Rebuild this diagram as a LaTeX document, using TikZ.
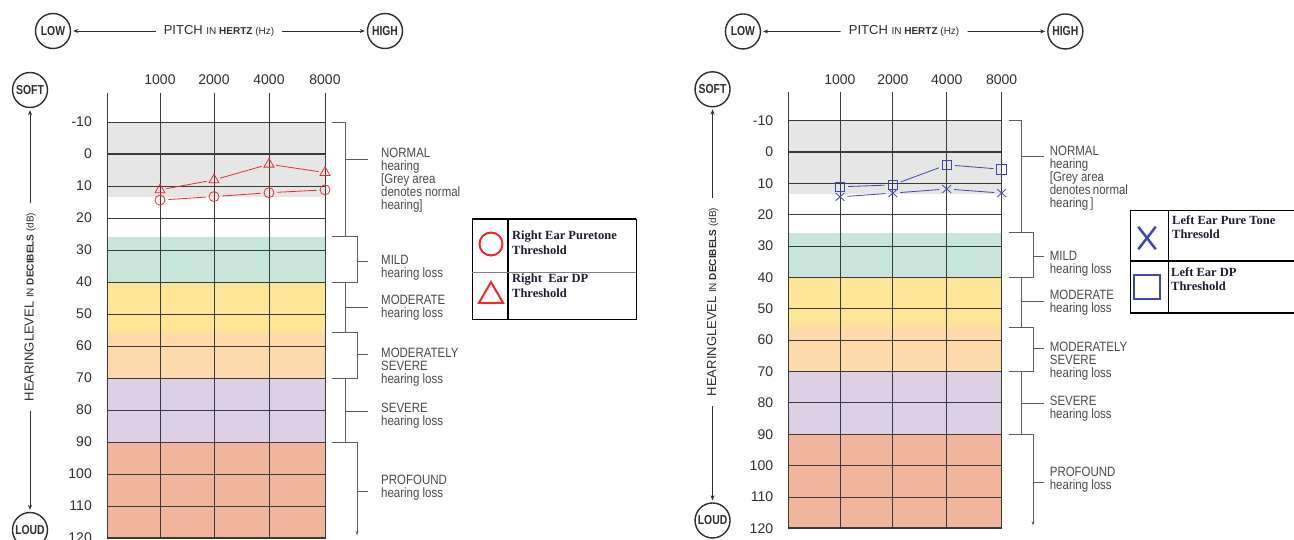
\documentclass[tikz,border=0pt]{standalone}
\usepackage{fontspec}
\setmainfont{Liberation Sans}
\newfontfamily\narrowfont[FakeStretch=0.85]{Liberation Sans}
\newfontfamily\condfont[FakeStretch=0.8]{Liberation Sans}
\newfontfamily\legfont{Liberation Serif}
\usetikzlibrary{arrows.meta,shapes.geometric,shapes.misc}
\definecolor{bgrey}{HTML}{E6E6E6}
\definecolor{bteal}{HTML}{C7E5DA}
\definecolor{byellow}{HTML}{FCE596}
\definecolor{bpeach}{HTML}{FCDAAC}
\definecolor{blav}{HTML}{DDCFE4}
\definecolor{bsalmon}{HTML}{F1B59E}
\definecolor{gridc}{HTML}{3A3A3A}
\definecolor{lblc}{HTML}{4A4A4A}
\definecolor{axc}{HTML}{2E2E2E}
\definecolor{dred}{HTML}{EC2A2E}
\definecolor{dblue}{HTML}{3F48A8}
\definecolor{legtc}{HTML}{1E1E30}
\tikzset{
  gridline/.style={draw=gridc, line width=0.8pt},
  ticklbl/.style={anchor=east, inner sep=0pt, text=axc, font=\fontsize{14}{16}\selectfont},
  freqlbl/.style={inner sep=0pt, text=axc, font=\fontsize{14}{16}\selectfont},
  lbl/.style={anchor=north west, inner sep=0pt, align=left, text=lblc, font=\narrowfont\fontsize{13.5}{13}\selectfont},
  brk/.style={draw=lblc!90, line width=0.9pt},
  circ/.style={circle, draw=axc, line width=1.4pt, minimum size=35pt, inner sep=0pt, text=axc, font=\condfont\bfseries\fontsize{13}{13}\selectfont},
  axarrow/.style={draw=axc, line width=0.8pt, -{Stealth[length=5pt,width=4pt]}, shorten >=2pt},
  pitchlbl/.style={inner xsep=8pt, inner ysep=2pt, text=axc},
  vlbl/.style={rotate=90, inner xsep=10pt, inner ysep=2pt, text=axc},
  ptL/.style={circle, draw=dred, line width=0.8pt, minimum size=10pt, inner sep=0pt},
  dpL/.style={regular polygon, regular polygon sides=3, draw=dred, line width=0.8pt, minimum size=11.5pt, inner sep=0pt},
  datL/.style={draw=dred, line width=0.8pt, shorten >=3pt, shorten <=3pt},
  ptR/.style={cross out, draw=dblue, line width=0.8pt, minimum width=8pt, minimum height=7pt, inner sep=0pt},
  dpR/.style={rectangle, draw=dblue, line width=0.8pt, minimum size=9.5pt, inner sep=0pt},
  datR/.style={draw=dblue, line width=0.8pt, shorten >=3pt, shorten <=3pt},
  legtxt/.style={anchor=north west, inner sep=0pt, align=left, text=legtc, font=\legfont\bfseries\fontsize{12.5}{14.5}\selectfont},
  legline/.style={draw=black, line width=0.8pt},
  chartL/.style={shift={(107,154)}, name prefix=L-},
  chartR/.style={shift={(788,152)}, scale=0.98, name prefix=R-}
}
% #1 LOW x, #2 HIGH x, #3 label x, #4 normal label text
\newcommand\audiogram[4]{%
  % colour bands
  \fill[bgrey]   (0,-32)   rectangle (218,43.2);
  \fill[bteal]   (0,82.6)  rectangle (218,128);
  \fill[byellow] (0,128)   rectangle (218,178.6);
  \fill[bpeach]  (0,178.6) rectangle (218,224);
  \fill[blav]    (0,224)   rectangle (218,288);
  \fill[bsalmon] (0,288)   rectangle (218,384);
  % horizontal grid lines
  \foreach \d in {-10,10,20,...,110}
    \draw[gridline] (0,{3.2*\d}) -- (218,{3.2*\d});
  \draw[gridline, line width=2.4pt] (0,0) -- (218,0);
  \draw[gridline, line width=2pt] (0,384) -- (218,384);
  % vertical grid lines
  \foreach \x in {0,53,107,162,218}
    \draw[gridline] (\x,-61) -- (\x,385);
  % level labels
  \foreach \d in {-10,0,10,...,120}
    \node[ticklbl] (t\d) at (-15,{3.2*\d}) {\d};
  % frequency labels
  \foreach \x/\f in {53/1000,107/2000,162/4000,218/8000}
    \node[freqlbl] (f\f) at (\x,-74) {\f};
  % pitch axis
  \node[circ] (low) at (#1,-123) {LOW};
  \node[circ] (high) at (#2,-123) {HIGH};
  \node[pitchlbl] (pitch) at ({(#1+#2)/2},-123)
    {\fontsize{13}{14}\selectfont PITCH {\fontsize{10}{11}\selectfont IN \textbf{HERTZ} (Hz)}};
  \draw[axarrow] (pitch) -- (low);
  \draw[axarrow] (pitch) -- (high);
  % hearing level axis
  \node[circ] (soft) at (-77,-64) {SOFT};
  \node[circ] (loud) at (-77,376) {LOUD};
  \node[vlbl] (hl) at (-77,153)
    {\fontsize{13}{14}\selectfont HEARINGLEVEL {\fontsize{10}{11}\selectfont IN \textbf{DECIBELS} (dB)}};
  \draw[axarrow] (hl) -- (soft);
  \draw[axarrow] (hl) -- (loud);
  % brackets
  \draw[brk] (225,-32) -- (238,-32) -- (238,82.6);
  \draw[brk] (238,128) -- (238,178.6);
  \draw[brk] (238,224) -- (238,288);
  \draw[brk] (225,82.6) -- (250,82.6) -- (250,128) -- (225,128);
  \draw[brk] (225,178.6) -- (250,178.6) -- (250,224) -- (225,224);
  \draw[brk, -{Stealth[length=4pt,width=3pt]}] (225,288) -- (250,288) -- (250,381);
  \draw[brk] (238,5) -- (261,5);
  \draw[brk] (250,107) -- (261,107);
  \draw[brk] (238,153) -- (261,153);
  \draw[brk] (250,200) -- (261,200);
  \draw[brk] (238,257) -- (261,257);
  \draw[brk] (250,337) -- (261,337);
  % range labels
  \node[lbl] (nrm) at (#3,-6) {#4};
  \node[lbl] (mild) at (#3,101) {MILD\\hearing loss};
  \node[lbl] (mod) at (#3,141) {MODERATE\\hearing loss};
  \node[lbl] (modsev) at (#3,194) {MODERATELY\\SEVERE\\hearing loss};
  \node[lbl] (sev) at (#3,249) {SEVERE\\hearing loss};
  \node[lbl] (prof) at (#3,321) {PROFOUND\\hearing loss};
}
\begin{document}
\begin{tikzpicture}[x=1pt, y=-1pt]
\useasboundingbox (0,0) rectangle (1294,540);
\fill[white] (0,0) rectangle (1294,540);

% ---------------- left audiogram (right ear) ----------------
\begin{scope}[chartL]
  \audiogram{-54}{278}{274}{NORMAL\\hearing\\{[}Grey area\\denotes normal\\hearing{]}}
  \foreach \i/\x/\d in {1/53/14.4,2/107/13.3,3/162/12.1,4/218/11.2}
    \node[ptL] (c\i) at (\x,{3.2*\d}) {};
  \foreach \i/\x/\d in {1/53/11.2,2/107/8.1,3/162/3.2,4/218/5.8}
    \node[dpL] (tr\i) at (\x,{3.2*\d}) {};
  \foreach \a/\b in {1/2,2/3,3/4} {
    \draw[datL] (c\a) -- (c\b);
    \draw[datL] (tr\a) -- (tr\b);
  }
\end{scope}

% ---------------- right audiogram (left ear) ----------------
\begin{scope}[chartR]
  \audiogram{-46}{283}{267}{NORMAL\\hearing\\{[}Grey area\\denotes\,normal\\hearing\,{]}}
  \foreach \i/\x/\d in {1/53/14.3,2/107/13.1,3/162/11.8,4/218/13.1}
    \node[ptR] (x\i) at (\x,{3.2*\d}) {};
  \foreach \i/\x/\d in {1/53/11.1,2/107/10.5,3/162/4.1,4/218/5.5}
    \node[dpR] (sq\i) at (\x,{3.2*\d}) {};
  \foreach \a/\b in {1/2,2/3,3/4} {
    \draw[datR] (x\a) -- (x\b);
    \draw[datR] (sq\a) -- (sq\b);
  }
\end{scope}

% ---------------- left legend ----------------
\draw[legline] (472,219) rectangle (636,319);
\draw[legline, line width=1.8pt] (472,219) -- (636,219);
\draw[legline, line width=1.6pt] (508,219) -- (508,319);
\draw[draw=gray, line width=0.6pt] (472,272) -- (636,272);
\node[circle, draw=dred, line width=2pt, minimum size=23pt, inner sep=0pt] (lgc) at (491,244) {};
\node[regular polygon, regular polygon sides=3, draw=dred, line width=2pt, minimum size=28pt, inner sep=0pt] (lgt) at (491,296) {};
\node[legtxt] (lg1) at (512,231) {Right Ear Puretone\\Threshold};
\node[legtxt] (lg2) at (512,274) {Right\ \ Ear DP\\Threshold};

% ---------------- right legend ----------------
\draw[legline] (1294,210) -- (1130,210) -- (1130,313);
\draw[legline, line width=1.5pt] (1130,313) -- (1294,313);
\draw[legline, line width=1.5pt] (1130,261) -- (1294,261);
\draw[legline] (1168,210) -- (1168,313);
\node[cross out, draw=dblue, line width=2.5pt, minimum width=15pt, minimum height=20pt, inner sep=0pt] (lgx) at (1147,238) {};
\node[rectangle, draw=dblue, line width=2.5pt, minimum width=26pt, minimum height=24pt, inner sep=0pt] (lgs) at (1147,287) {};
\node[legtxt] (lg3) at (1172,215) {Left Ear Pure Tone\\Thresold};
\node[legtxt] (lg4) at (1171,267) {Left Ear DP\\Threshold};
\end{tikzpicture}
\end{document}
